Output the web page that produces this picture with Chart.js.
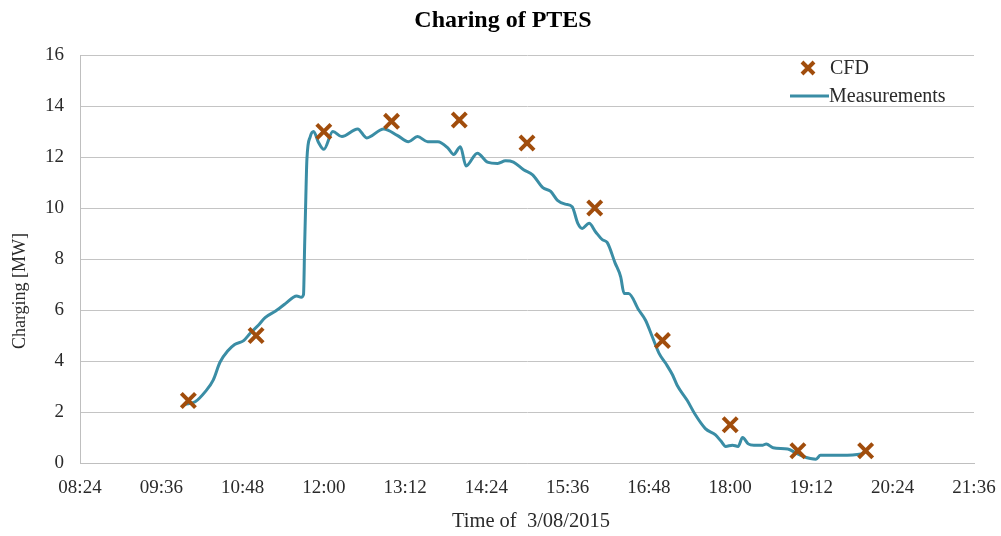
<!DOCTYPE html>
<html>
<head>
<meta charset="utf-8">
<script src="https://cdn.jsdelivr.net/npm/chart.js@4/dist/chart.umd.min.js"></script>
<style>
  html, body { margin: 0; padding: 0; background: #ffffff; }
  #wrap { width: 1001px; height: 536px; position: relative; }
</style>
</head>
<body>
<div id="wrap"><canvas id="c" width="1001" height="536"></canvas></div>
<script>
// ---- Data ----
const chartTitle = "Charing of PTES";
const xAxisTitle = "Time of  3/08/2015";
const yAxisTitle = "Charging [MW]";

const cfdTimes = ["10:00","11:00","12:00","13:00","14:00","15:00","16:00","17:00","18:00","19:00","20:00"];
const cfdValues = [2.45, 5.0, 13.0, 13.4, 13.45, 12.55, 10.0, 4.8, 1.5, 0.48, 0.48];

const measTimes = ["09:57","10:06","10:15","10:22","10:28","10:35","10:41","10:49","10:55","11:02","11:08","11:17","11:26","11:33","11:36","11:40",
  "11:42","11:43","11:44","11:45","11:48","11:51","11:55","12:00","12:08","12:16","12:30","12:38","12:53","13:05","13:15","13:23","13:32","13:41",
  "13:50","13:55","14:01","14:06","14:16","14:25","14:34","14:41","14:48","14:57","15:05","15:14","15:21","15:27","15:34","15:40","15:45","15:49",
  "15:55","16:01","16:07","16:11","16:18","16:23","16:26","16:30","16:39","16:45","16:51","16:57","17:03","17:09","17:13","17:22","17:29","17:38",
  "17:47","17:52","17:56","18:02","18:07","18:11","18:16","18:21","18:29","18:32","18:38","18:51","18:58","19:05","19:16","19:20","19:38","19:56","20:00"];
const measValues = [2.3, 2.4, 2.8, 3.25, 3.95, 4.4, 4.65, 4.8, 5.1, 5.4, 5.7, 5.95, 6.25, 6.5, 6.55, 6.5,
  6.6, 8.5, 10.3, 11.9, 12.8, 13.0, 12.6, 12.3, 13.0, 12.8, 13.1, 12.75, 13.1, 12.85, 12.6, 12.8, 12.6, 12.6,
  12.35, 12.1, 12.4, 11.65, 12.15, 11.8, 11.75, 11.85, 11.8, 11.5, 11.3, 10.8, 10.65, 10.3, 10.15, 10.05, 9.4, 9.2,
  9.4, 9.05, 8.75, 8.65, 7.85, 7.3, 6.65, 6.65, 6.0, 5.6, 4.95, 4.3, 3.9, 3.45, 3.05, 2.45, 1.9, 1.35,
  1.1, 0.85, 0.65, 0.7, 0.65, 1.0, 0.75, 0.7, 0.7, 0.75, 0.6, 0.55, 0.4, 0.25, 0.15, 0.3, 0.3, 0.35, 0.45];

const xTickStart = "08:24", xTickEnd = "21:36", xTickStepMin = 72;
const yMin = 0, yMax = 16, yStep = 2;

// ---- helpers ----
const toMin = s => { const [h, m] = s.split(":").map(Number); return h * 60 + m; };
const fmt = v => { const h = Math.floor(v / 60), m = Math.round(v % 60); return String(h).padStart(2, "0") + ":" + String(m).padStart(2, "0"); };

const FONT = "'Liberation Serif', 'DejaVu Serif', serif";
const TEAL = "#3A8DA5";
const BROWN = "#A14D0C";
const TXT = "#2a2a2a";

const overlay = {
  id: "overlay",
  afterDraw(chart) {
    const ctx = chart.ctx;
    ctx.save();
    // title
    ctx.fillStyle = "#000";
    ctx.font = "bold 24px " + FONT;
    ctx.textAlign = "center"; ctx.textBaseline = "middle";
    ctx.fillText(chartTitle, 503, 21);
    // x title
    ctx.font = "20.5px " + FONT;
    ctx.fillStyle = TXT;
    ctx.fillText(xAxisTitle, 531, 522);
    // y title
    ctx.save();
    ctx.translate(20, 291);
    ctx.rotate(-Math.PI / 2);
    ctx.font = "18px " + FONT;
    ctx.fillText(yAxisTitle, 0, 0);
    ctx.restore();
    // legend
    ctx.textAlign = "left";
    ctx.font = "20px " + FONT;
    ctx.strokeStyle = BROWN; ctx.lineWidth = 4;
    const cx = 808, cy = 68, r = 6;
    ctx.beginPath();
    ctx.moveTo(cx - r, cy - r); ctx.lineTo(cx + r, cy + r);
    ctx.moveTo(cx - r, cy + r); ctx.lineTo(cx + r, cy - r);
    ctx.stroke();
    ctx.fillText(chart.data.datasets[0].label, 830, 69);
    ctx.strokeStyle = TEAL; ctx.lineWidth = 3;
    ctx.beginPath(); ctx.moveTo(790, 96); ctx.lineTo(829, 96); ctx.stroke();
    ctx.fillText(chart.data.datasets[1].label, 829, 97);
    ctx.restore();
  }
};

new Chart(document.getElementById("c"), {
  type: "scatter",
  data: {
    datasets: [
      {
        label: "CFD",
        data: cfdTimes.map((t, i) => ({ x: toMin(t), y: cfdValues[i] })),
        pointStyle: "crossRot",
        pointRadius: 10,
        pointHoverRadius: 10,
        borderColor: BROWN,
        backgroundColor: BROWN,
        pointBorderWidth: 4,
        showLine: false,
        order: 0
      },
      {
        label: "Measurements",
        data: measTimes.map((t, i) => ({ x: toMin(t), y: measValues[i] })),
        showLine: true,
        borderColor: TEAL,
        backgroundColor: TEAL,
        borderWidth: 3,
        pointRadius: 0,
        cubicInterpolationMode: "monotone",
        order: 1
      }
    ]
  },
  options: {
    responsive: false,
    animation: false,
    layout: { padding: { top: 55, right: 27, left: 0, bottom: 0 } },
    plugins: { legend: { display: false }, title: { display: false }, tooltip: { enabled: false } },
    scales: {
      x: {
        type: "linear",
        min: toMin(xTickStart), max: toMin(xTickEnd),
        ticks: { stepSize: xTickStepMin, callback: v => fmt(v), color: TXT, font: { family: FONT, size: 19 }, padding: 14, maxRotation: 0 },
        grid: { display: false, drawTicks: false },
        border: { display: true, color: "#BFBFBF", width: 1 },
        afterFit: s => { s.height = 73; s.paddingRight = 0; s.paddingLeft = 0; }
      },
      y: {
        min: yMin, max: yMax,
        ticks: { stepSize: yStep, color: TXT, font: { family: FONT, size: 19 }, padding: 16 },
        grid: { color: "#C4C4C4", lineWidth: 1, drawTicks: false },
        border: { display: true, color: "#BFBFBF", width: 1 },
        afterFit: s => { s.width = 80; s.paddingTop = 0; s.paddingBottom = 0; }
      }
    }
  },
  plugins: [overlay]
});
</script>
</body>
</html>
